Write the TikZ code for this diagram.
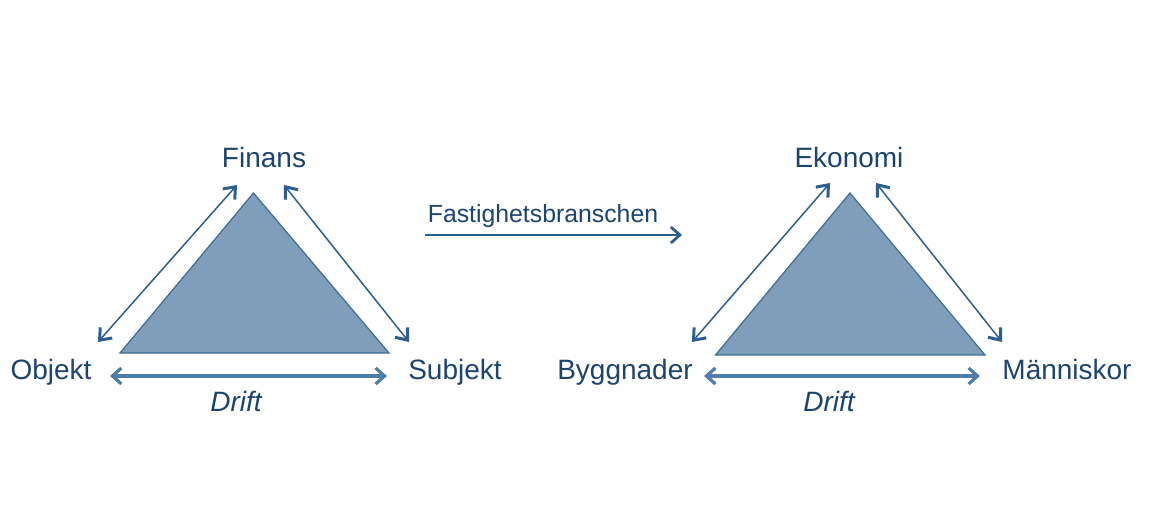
\documentclass[tikz,border=0pt]{standalone}
\usepackage{fontspec}
\setmainfont{Liberation Sans}
\usetikzlibrary{arrows.meta}
\definecolor{txtblue}{HTML}{1C4470}
\definecolor{arrblue}{HTML}{2C5F8E}
\definecolor{lightarr}{HTML}{4E7EA8}
\definecolor{trifill}{HTML}{7F9EBB}
\definecolor{tridraw}{HTML}{3E6B94}
\tikzset{
  lbl/.style={text=txtblue, font=\fontsize{14}{16}\selectfont, inner sep=0pt, anchor=base},
  driftlbl/.style={lbl, font=\fontsize{14}{16}\selectfont\itshape},
  tri/.style={fill=trifill, draw=tridraw, line width=0.6pt, line join=miter},
  diag/.style={draw=arrblue, line width=0.75pt, {Straight Barb[length=5pt,width=8pt,line width=1.5pt]}-{Straight Barb[length=5pt,width=8pt,line width=1.5pt]}},
  base/.style={draw=lightarr, line width=1.6pt, {Straight Barb[length=4.5pt,width=8pt,line width=1.6pt]}-{Straight Barb[length=4.5pt,width=8pt,line width=1.6pt]}},
  mainarr/.style={draw=arrblue, line width=1pt, -{Straight Barb[length=4.5pt,width=8pt,line width=1.4pt]}}
}
\begin{document}
\begin{tikzpicture}[x=0.5pt,y=-0.5pt]
\useasboundingbox (0,0) rectangle (1169,513);
\fill[white] (0,0) rectangle (1169,513);
% left triangle
\coordinate (LA) at (253.5,193);
\coordinate (LB) at (120,353);
\coordinate (LC) at (389,353);
\draw[tri] (LA) -- (LB) -- (LC) -- cycle;
\node[lbl] (finans) at (264,168) {Finans};
\node[lbl] (objekt) at (51,380) {Objekt};
\node[lbl] (subjekt) at (455,380) {Subjekt};
\node[driftlbl] (drift1) at (236,412) {Drift};
\coordinate (l1a) at (98,342);
\coordinate (l1b) at (237,185);
\coordinate (l2a) at (284,185);
\coordinate (l2b) at (409,342);
\coordinate (l3a) at (110,376);
\coordinate (l3b) at (387,376);
\draw[diag] (l1a) -- (l1b);
\draw[diag] (l2a) -- (l2b);
\draw[base] (l3a) -- (l3b);
% middle arrow
\node[lbl, font=\fontsize{12.4}{14}\selectfont] (fast) at (543,223) {Fastighetsbranschen};
\coordinate (ma) at (425,235);
\coordinate (mb) at (682,235);
\draw[mainarr] (ma) -- (mb);
% right triangle
\coordinate (RA) at (850,193);
\coordinate (RB) at (715.5,355);
\coordinate (RC) at (985,355);
\draw[tri] (RA) -- (RB) -- (RC) -- cycle;
\node[lbl] (ekonomi) at (849,168) {Ekonomi};
\node[lbl] (bygg) at (625,380) {Byggnader};
\node[lbl] (manni) at (1067,380) {Människor};
\node[driftlbl] (drift2) at (829,412) {Drift};
\coordinate (r1a) at (692,342);
\coordinate (r1b) at (830,183);
\coordinate (r2a) at (876,183);
\coordinate (r2b) at (1002,342);
\coordinate (r3a) at (704,376);
\coordinate (r3b) at (980,376);
\draw[diag] (r1a) -- (r1b);
\draw[diag] (r2a) -- (r2b);
\draw[base] (r3a) -- (r3b);
\end{tikzpicture}
\end{document}
